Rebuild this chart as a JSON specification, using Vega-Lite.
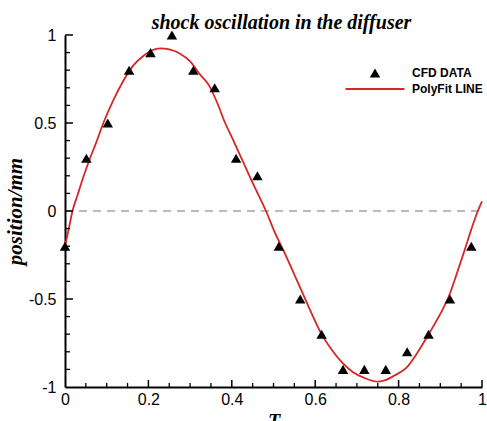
{
  "$schema": "https://vega.github.io/schema/vega-lite/v6.json",
  "width": 417,
  "height": 352,
  "autosize": "none",
  "padding": {"left": 65, "top": 35, "right": 5, "bottom": 34},
  "background": "white",
  "title": {"text": "shock oscillation in the diffuser", "font": "Liberation Serif", "fontSize": 20, "fontWeight": "bold", "fontStyle": "italic", "color": "black", "offset": 2, "dx": 8, "dy": 8},
  "config": {"view": {"stroke": null}},
  "resolve": {"axis": {"x": "independent", "y": "independent"}},
  "datasets": {
    "cfd": [
      {"T": 0.0, "pos": -0.2, "series": "CFD DATA"},
      {"T": 0.0513, "pos": 0.3, "series": "CFD DATA"},
      {"T": 0.1026, "pos": 0.5, "series": "CFD DATA"},
      {"T": 0.1538, "pos": 0.8, "series": "CFD DATA"},
      {"T": 0.2051, "pos": 0.9, "series": "CFD DATA"},
      {"T": 0.2564, "pos": 1.0, "series": "CFD DATA"},
      {"T": 0.3077, "pos": 0.8, "series": "CFD DATA"},
      {"T": 0.359, "pos": 0.7, "series": "CFD DATA"},
      {"T": 0.4103, "pos": 0.3, "series": "CFD DATA"},
      {"T": 0.4615, "pos": 0.2, "series": "CFD DATA"},
      {"T": 0.5128, "pos": -0.2, "series": "CFD DATA"},
      {"T": 0.5641, "pos": -0.5, "series": "CFD DATA"},
      {"T": 0.6154, "pos": -0.7, "series": "CFD DATA"},
      {"T": 0.6667, "pos": -0.9, "series": "CFD DATA"},
      {"T": 0.7179, "pos": -0.9, "series": "CFD DATA"},
      {"T": 0.7692, "pos": -0.9, "series": "CFD DATA"},
      {"T": 0.8205, "pos": -0.8, "series": "CFD DATA"},
      {"T": 0.8718, "pos": -0.7, "series": "CFD DATA"},
      {"T": 0.9231, "pos": -0.5, "series": "CFD DATA"},
      {"T": 0.9744, "pos": -0.2, "series": "CFD DATA"}
    ],
    "fit": [
      {"T": 0.0, "pos": -0.2, "series": "PolyFit LINE"},
      {"T": 0.01, "pos": -0.09, "series": "PolyFit LINE"},
      {"T": 0.018, "pos": 0.0, "series": "PolyFit LINE"},
      {"T": 0.03, "pos": 0.09, "series": "PolyFit LINE"},
      {"T": 0.045, "pos": 0.2, "series": "PolyFit LINE"},
      {"T": 0.06, "pos": 0.3, "series": "PolyFit LINE"},
      {"T": 0.075, "pos": 0.39, "series": "PolyFit LINE"},
      {"T": 0.092, "pos": 0.5, "series": "PolyFit LINE"},
      {"T": 0.116, "pos": 0.63, "series": "PolyFit LINE"},
      {"T": 0.14, "pos": 0.74, "series": "PolyFit LINE"},
      {"T": 0.165, "pos": 0.83, "series": "PolyFit LINE"},
      {"T": 0.19, "pos": 0.885, "series": "PolyFit LINE"},
      {"T": 0.21, "pos": 0.915, "series": "PolyFit LINE"},
      {"T": 0.228, "pos": 0.924, "series": "PolyFit LINE"},
      {"T": 0.25, "pos": 0.918, "series": "PolyFit LINE"},
      {"T": 0.275, "pos": 0.895, "series": "PolyFit LINE"},
      {"T": 0.3, "pos": 0.85, "series": "PolyFit LINE"},
      {"T": 0.324, "pos": 0.775, "series": "PolyFit LINE"},
      {"T": 0.345, "pos": 0.715, "series": "PolyFit LINE"},
      {"T": 0.365, "pos": 0.615, "series": "PolyFit LINE"},
      {"T": 0.384, "pos": 0.5, "series": "PolyFit LINE"},
      {"T": 0.4, "pos": 0.42, "series": "PolyFit LINE"},
      {"T": 0.425, "pos": 0.29, "series": "PolyFit LINE"},
      {"T": 0.45, "pos": 0.16, "series": "PolyFit LINE"},
      {"T": 0.482, "pos": 0.0, "series": "PolyFit LINE"},
      {"T": 0.501, "pos": -0.11, "series": "PolyFit LINE"},
      {"T": 0.525, "pos": -0.23, "series": "PolyFit LINE"},
      {"T": 0.545, "pos": -0.335, "series": "PolyFit LINE"},
      {"T": 0.564, "pos": -0.435, "series": "PolyFit LINE"},
      {"T": 0.59, "pos": -0.575, "series": "PolyFit LINE"},
      {"T": 0.613, "pos": -0.69, "series": "PolyFit LINE"},
      {"T": 0.64, "pos": -0.79, "series": "PolyFit LINE"},
      {"T": 0.666, "pos": -0.865, "series": "PolyFit LINE"},
      {"T": 0.69, "pos": -0.915, "series": "PolyFit LINE"},
      {"T": 0.719, "pos": -0.95, "series": "PolyFit LINE"},
      {"T": 0.751, "pos": -0.97, "series": "PolyFit LINE"},
      {"T": 0.77, "pos": -0.96, "series": "PolyFit LINE"},
      {"T": 0.79, "pos": -0.935, "series": "PolyFit LINE"},
      {"T": 0.819, "pos": -0.89, "series": "PolyFit LINE"},
      {"T": 0.845, "pos": -0.805, "series": "PolyFit LINE"},
      {"T": 0.872, "pos": -0.7, "series": "PolyFit LINE"},
      {"T": 0.9, "pos": -0.585, "series": "PolyFit LINE"},
      {"T": 0.923, "pos": -0.47, "series": "PolyFit LINE"},
      {"T": 0.939, "pos": -0.36, "series": "PolyFit LINE"},
      {"T": 0.96, "pos": -0.21, "series": "PolyFit LINE"},
      {"T": 0.975, "pos": -0.1, "series": "PolyFit LINE"},
      {"T": 0.99, "pos": 0.0, "series": "PolyFit LINE"},
      {"T": 1.0, "pos": 0.055, "series": "PolyFit LINE"}
    ],
    "zero": [{"T": 0, "pos": 0}, {"T": 1, "pos": 0}],
    "xminor": [{"T": 0.05}, {"T": 0.1}, {"T": 0.15}, {"T": 0.25}, {"T": 0.3}, {"T": 0.35}, {"T": 0.45}, {"T": 0.5}, {"T": 0.55}, {"T": 0.65}, {"T": 0.7}, {"T": 0.75}, {"T": 0.85}, {"T": 0.9}, {"T": 0.95}],
    "xmajor": [{"T": 0.2}, {"T": 0.4}, {"T": 0.6}, {"T": 0.8}, {"T": 1}],
    "yminor": [{"pos": -0.9}, {"pos": -0.8}, {"pos": -0.7}, {"pos": -0.6}, {"pos": -0.4}, {"pos": -0.3}, {"pos": -0.2}, {"pos": -0.1}, {"pos": 0.1}, {"pos": 0.2}, {"pos": 0.3}, {"pos": 0.4}, {"pos": 0.6}, {"pos": 0.7}, {"pos": 0.8}, {"pos": 0.9}],
    "ymajor": [{"pos": -0.5}, {"pos": 0}, {"pos": 0.5}, {"pos": 1}]
  },
  "layer": [
    {
      "data": {"name": "zero"},
      "mark": {"type": "line", "color": "#777777", "strokeDash": [8, 6], "strokeWidth": 1.2},
      "encoding": {
        "x": {"field": "T", "type": "quantitative", "scale": {"domain": [0, 1]}, "axis": null},
        "y": {"field": "pos", "type": "quantitative", "scale": {"domain": [-1, 1]}, "axis": null}
      }
    },
    {
      "data": {"name": "fit"},
      "mark": {"type": "line", "strokeWidth": 1.8, "interpolate": "monotone"},
      "encoding": {
        "x": {"field": "T", "type": "quantitative",
          "axis": {"orient": "bottom", "values": [0, 0.2, 0.4, 0.6, 0.8, 1],
            "labelExpr": "datum.value + ''",
            "ticks": false,
            "title": "T", "grid": false, "domainColor": "black", "domainWidth": 2,
            "labelFont": "Liberation Sans", "labelFontSize": 16, "labelColor": "black", "labelPadding": 4, "labelFlush": false, "labelOverlap": false,
            "titleFont": "Liberation Serif", "titleFontSize": 20, "titleFontWeight": "bold", "titleFontStyle": "italic", "titleColor": "black", "titlePadding": 4}},
        "y": {"field": "pos", "type": "quantitative",
          "axis": {"orient": "left", "values": [-1, -0.5, 0, 0.5, 1],
            "labelExpr": "datum.value + ''",
            "ticks": false,
            "title": "position/mm", "grid": false, "domainColor": "black", "domainWidth": 2,
            "labelFont": "Liberation Sans", "labelFontSize": 16, "labelColor": "black", "labelPadding": 9, "labelFlush": false, "labelOverlap": false,
            "titleFont": "Liberation Serif", "titleFontSize": 21, "titleFontWeight": "bold", "titleFontStyle": "italic", "titleColor": "black", "titlePadding": 3}},
        "color": {"field": "series", "type": "nominal", "scale": {"domain": ["CFD DATA", "PolyFit LINE"], "range": ["black", "#d62728"]},
          "legend": {"orient": "none", "legendX": 304, "legendY": 32, "title": null, "symbolSize": 3481, "rowPadding": 4,
            "labelFont": "Liberation Sans", "labelFontSize": 12, "labelFontWeight": "bold", "labelColor": "black", "labelOffset": 31,
            "encode": {"symbols": {"update": {
              "shape": {"signal": "datum.value === 'CFD DATA' ? 'triangle-up' : 'M-1,0L1,0'"},
              "size": {"signal": "datum.value === 'CFD DATA' ? 110 : 3481"},
              "fill": {"signal": "datum.value === 'CFD DATA' ? 'black' : 'transparent'"},
              "stroke": {"signal": "datum.value === 'CFD DATA' ? 'black' : '#d62728'"},
              "strokeWidth": {"signal": "datum.value === 'CFD DATA' ? 0 : 1.8"},
              "opacity": {"value": 1},
              "fillOpacity": {"value": 1},
              "strokeOpacity": {"value": 1}
            }}}}}
      }
    },
    {
      "data": {"name": "xminor"},
      "mark": {"type": "tick", "orient": "vertical", "size": 4, "thickness": 1.3, "color": "black", "opacity": 1, "yOffset": -2},
      "encoding": {
        "x": {"field": "T", "type": "quantitative", "axis": null},
        "y": {"datum": -1, "type": "quantitative", "axis": null}
      }
    },
    {
      "data": {"name": "xmajor"},
      "mark": {"type": "tick", "orient": "vertical", "size": 7, "thickness": 1.5, "color": "black", "opacity": 1, "yOffset": -3.5},
      "encoding": {
        "x": {"field": "T", "type": "quantitative", "axis": null},
        "y": {"datum": -1, "type": "quantitative", "axis": null}
      }
    },
    {
      "data": {"name": "yminor"},
      "mark": {"type": "tick", "orient": "horizontal", "size": 5, "thickness": 1.3, "color": "black", "opacity": 1, "xOffset": 2.5},
      "encoding": {
        "x": {"datum": 0, "type": "quantitative", "axis": null},
        "y": {"field": "pos", "type": "quantitative", "axis": null}
      }
    },
    {
      "data": {"name": "ymajor"},
      "mark": {"type": "tick", "orient": "horizontal", "size": 8, "thickness": 1.5, "color": "black", "opacity": 1, "xOffset": 4},
      "encoding": {
        "x": {"datum": 0, "type": "quantitative", "axis": null},
        "y": {"field": "pos", "type": "quantitative", "axis": null}
      }
    },
    {
      "data": {"name": "cfd"},
      "mark": {"type": "point", "shape": "triangle-up", "filled": true, "size": 110, "opacity": 1},
      "encoding": {
        "x": {"field": "T", "type": "quantitative", "axis": null},
        "y": {"field": "pos", "type": "quantitative", "axis": null},
        "color": {"field": "series", "type": "nominal"}
      }
    }
  ]
}
